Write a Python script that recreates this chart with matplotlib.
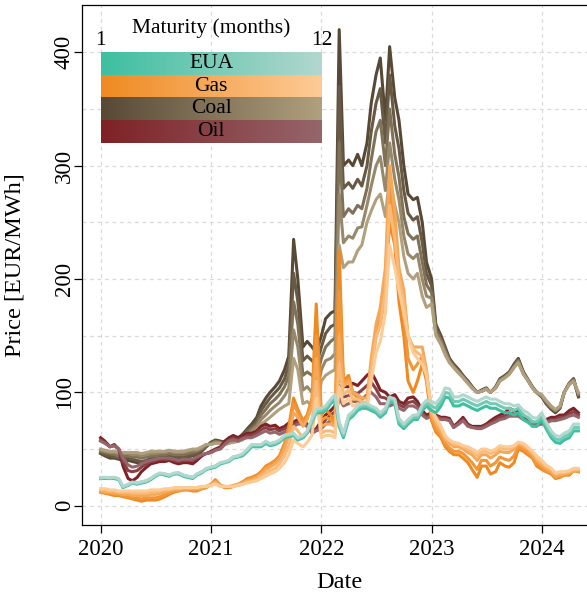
import numpy as np
import pandas as pd
import matplotlib
matplotlib.use("Agg")
import matplotlib.pyplot as plt
import matplotlib.dates as mdates
from matplotlib.colors import LinearSegmentedColormap
from matplotlib.ticker import MultipleLocator

plt.rcParams["font.family"] = ["Liberation Serif", "DejaVu Serif"]

# semi-monthly observation dates (1st and 15th)
dates = pd.date_range("2020-01-01", "2024-05-01", freq="SMS")

# ---- EUA (maturities 1, 6, 12) ----
eua_m1 = [24, 24, 24, 24, 23, 16, 18, 20, 19, 20, 21, 23, 26, 28, 27, 26, 28, 28, 26, 25, 24, 27, 29, 32,
          33, 34, 37, 38, 39, 42, 43, 44, 48, 52, 52, 52, 55, 53, 54, 56, 60, 61, 62, 58, 60, 64, 74, 82,
          82, 84, 90, 94, 70, 60, 76, 79, 84, 86, 86, 84, 82, 78, 82, 92, 90, 72, 68, 72, 76, 76, 84, 88,
          84, 82, 88, 96, 95, 88, 88, 90, 88, 86, 84, 86, 88, 86, 86, 84, 82, 82, 80, 82, 76, 74, 70, 70,
          76, 68, 60, 56, 55, 58, 60, 66, 66]
eua_m6 = [24, 25, 24, 25, 23, 17, 18, 20, 20, 21, 22, 24, 27, 28, 28, 27, 28, 29, 27, 26, 25, 28, 30, 32,
          34, 35, 38, 38, 40, 43, 44, 45, 49, 53, 53, 53, 56, 54, 55, 57, 61, 62, 63, 59, 61, 65, 75, 83,
          84, 86, 92, 96, 72, 62, 78, 81, 86, 88, 88, 86, 84, 80, 84, 94, 92, 74, 70, 74, 78, 78, 86, 90,
          88, 86, 92, 100, 99, 92, 92, 94, 92, 90, 88, 90, 92, 90, 90, 88, 86, 86, 84, 86, 80, 78, 74, 74,
          79, 71, 63, 59, 58, 61, 63, 69, 69]
eua_m12 = [25, 25, 25, 25, 24, 17, 19, 21, 20, 21, 22, 24, 27, 29, 28, 27, 29, 29, 27, 26, 25, 28, 30, 33,
           34, 35, 38, 39, 40, 43, 44, 46, 50, 54, 54, 54, 57, 55, 56, 58, 62, 63, 64, 60, 62, 66, 77, 85,
           86, 88, 94, 98, 74, 64, 80, 83, 88, 90, 90, 88, 86, 82, 86, 96, 94, 77, 72, 76, 80, 80, 89, 93,
           92, 90, 96, 104, 103, 96, 96, 98, 96, 94, 92, 94, 96, 94, 94, 92, 90, 90, 88, 89, 84, 82, 78, 77,
           82, 74, 66, 62, 61, 64, 66, 72, 72]

# ---- Gas (maturities 1, 3, 6, 9, 12) ----
gas_m1 = [12, 11, 10, 9, 9, 8, 7, 6, 5, 4, 5, 5, 5, 6, 8, 10, 12, 13, 14, 14, 13, 13, 15, 16,
          19, 23, 18, 16, 16, 17, 19, 21, 24, 25, 27, 30, 35, 37, 40, 44, 55, 70, 95, 85, 75, 80, 95, 178,
          80, 85, 80, 75, 225, 110, 115, 100, 95, 90, 88, 120, 150, 160, 190, 250, 230, 180, 150, 110, 100, 110, 125, 110,
          75, 65, 60, 52, 48, 45, 45, 42, 38, 32, 25, 35, 35, 28, 30, 38, 35, 34, 38, 50, 48, 45, 42, 35,
          32, 30, 28, 24, 25, 27, 27, 31, 30]
gas_m3 = [12, 12, 11, 10, 10, 9, 8, 7, 7, 6, 7, 7, 7, 8, 10, 11, 13, 13, 14, 14, 14, 14, 15, 16,
          19, 22, 18, 16, 16, 17, 19, 21, 23, 24, 26, 29, 34, 36, 39, 43, 53, 66, 90, 82, 73, 78, 92, 150,
          75, 78, 76, 72, 190, 108, 112, 100, 96, 92, 90, 125, 155, 168, 200, 280, 245, 195, 170, 130, 120, 125, 132, 115,
          78, 68, 62, 55, 51, 48, 48, 46, 42, 38, 32, 40, 40, 35, 38, 43, 41, 40, 44, 52, 50, 47, 43, 37,
          34, 31, 29, 25, 26, 27, 28, 31, 30]
gas_m6 = [13, 12, 12, 11, 11, 10, 10, 9, 9, 9, 9, 10, 10, 11, 12, 13, 14, 14, 15, 15, 15, 15, 16, 17,
          19, 21, 18, 17, 17, 18, 19, 20, 22, 23, 25, 28, 32, 34, 37, 41, 50, 62, 82, 78, 70, 76, 88, 130,
          70, 72, 72, 70, 150, 105, 110, 100, 98, 95, 95, 130, 160, 175, 210, 300, 260, 210, 190, 150, 140, 140, 140, 120,
          80, 72, 65, 58, 55, 52, 52, 50, 47, 45, 40, 45, 45, 42, 45, 48, 47, 47, 50, 55, 52, 50, 45, 40,
          36, 33, 30, 26, 27, 28, 29, 31, 31]
gas_m9 = [14, 14, 13, 13, 12, 12, 12, 11, 11, 11, 11, 12, 12, 13, 14, 14, 15, 15, 16, 16, 16, 16, 17, 17,
          18, 20, 17, 17, 17, 17, 18, 19, 21, 22, 23, 26, 29, 31, 33, 37, 44, 53, 70, 66, 60, 65, 74, 110,
          64, 66, 66, 64, 125, 98, 102, 94, 94, 92, 90, 120, 148, 160, 190, 265, 235, 200, 180, 150, 138, 135, 132, 118,
          83, 75, 68, 60, 57, 54, 54, 52, 50, 48, 44, 48, 48, 46, 48, 51, 50, 50, 52, 56, 54, 51, 47, 42,
          38, 35, 32, 28, 29, 29, 30, 32, 32]
gas_m12 = [15, 15, 14, 14, 13, 13, 13, 13, 13, 13, 13, 14, 14, 14, 15, 15, 16, 16, 16, 16, 16, 16, 17, 17,
           18, 19, 17, 17, 17, 17, 18, 19, 20, 21, 22, 24, 26, 28, 30, 33, 38, 45, 58, 55, 52, 56, 62, 95,
           60, 62, 62, 60, 105, 90, 95, 88, 90, 88, 85, 110, 135, 145, 170, 230, 210, 190, 170, 150, 135, 130, 125, 115,
           85, 78, 70, 62, 58, 56, 55, 53, 52, 50, 47, 50, 50, 48, 50, 53, 52, 52, 53, 56, 55, 52, 48, 44,
           40, 36, 33, 29, 30, 30, 31, 33, 33]

# ---- Coal (maturities 1, 3, 6, 9, 12) ----
coal_m1 = [46, 44, 42, 42, 41, 40, 40, 39, 38, 37, 38, 40, 40, 41, 42, 43, 42, 41, 42, 43, 44, 45, 48, 52,
           56, 58, 57, 56, 58, 58, 60, 63, 68, 72, 78, 88, 95, 100, 105, 110, 120, 132, 235, 200, 140, 145, 140, 135,
           150, 165, 170, 172, 420, 300, 305, 300, 310, 300, 320, 355, 380, 395, 340, 405, 360, 340, 300, 275, 270, 272, 250, 215,
           200, 160, 150, 140, 130, 125, 120, 115, 110, 105, 100, 102, 104, 100, 105, 112, 115, 118, 125, 130, 118, 112, 105, 100,
           96, 90, 85, 82, 86, 100, 108, 112, 96]
coal_m3 = [47, 45, 44, 43, 42, 42, 42, 41, 40, 39, 40, 42, 42, 43, 43, 44, 43, 43, 43, 44, 45, 46, 49, 52,
           56, 57, 56, 55, 57, 58, 59, 62, 67, 70, 75, 84, 90, 95, 100, 104, 112, 124, 205, 180, 128, 132, 128, 124,
           140, 152, 158, 160, 370, 280, 285, 280, 288, 282, 300, 330, 355, 368, 320, 380, 335, 315, 278, 258, 252, 255, 232, 205,
           194, 158, 148, 138, 129, 124, 119, 114, 110, 105, 100, 101, 103, 100, 104, 111, 114, 117, 124, 129, 117, 111, 104, 100,
           96, 91, 86, 83, 86, 100, 108, 112, 97]
coal_m6 = [48, 47, 46, 45, 44, 44, 44, 43, 43, 42, 43, 44, 44, 45, 45, 46, 45, 45, 45, 46, 47, 48, 50, 53,
           55, 57, 56, 55, 57, 57, 58, 60, 65, 68, 72, 80, 85, 90, 94, 98, 105, 115, 180, 160, 115, 118, 115, 112,
           130, 140, 145, 148, 320, 255, 262, 258, 265, 262, 280, 305, 330, 340, 300, 350, 310, 290, 255, 240, 235, 238, 215, 195,
           188, 155, 146, 137, 128, 123, 118, 114, 109, 104, 100, 101, 103, 100, 104, 111, 114, 117, 123, 128, 117, 111, 104, 100,
           97, 92, 87, 84, 87, 100, 108, 111, 98]
coal_m9 = [49, 48, 47, 47, 46, 46, 46, 45, 45, 44, 45, 46, 46, 47, 47, 48, 47, 47, 47, 48, 49, 49, 51, 54,
           54, 56, 55, 55, 56, 56, 57, 59, 63, 66, 70, 76, 80, 84, 88, 91, 97, 104, 155, 140, 102, 105, 100, 98,
           120, 128, 130, 134, 275, 232, 238, 236, 245, 246, 265, 282, 300, 308, 278, 320, 288, 270, 238, 222, 218, 222, 200, 185,
           183, 152, 144, 135, 127, 122, 117, 113, 108, 104, 100, 101, 103, 100, 104, 110, 113, 116, 122, 127, 116, 111, 104, 100,
           97, 92, 87, 84, 87, 100, 107, 110, 99]
coal_m12 = [50, 49, 48, 48, 47, 47, 47, 47, 47, 46, 47, 48, 48, 48, 48, 49, 48, 48, 48, 49, 50, 50, 52, 54,
            54, 55, 55, 54, 55, 56, 57, 58, 62, 64, 67, 72, 75, 78, 82, 85, 88, 90, 130, 120, 90, 92, 88, 85,
            110, 115, 118, 120, 230, 210, 215, 215, 225, 230, 250, 260, 270, 275, 255, 290, 265, 250, 220, 205, 200, 205, 185, 175,
            178, 150, 142, 133, 126, 122, 117, 113, 108, 104, 100, 101, 103, 100, 104, 110, 113, 116, 122, 126, 116, 111, 104, 100,
            98, 93, 88, 85, 88, 100, 107, 110, 100]

# ---- Oil (maturities 1, 6, 12) ----
oil_m1 = [60, 57, 52, 54, 50, 35, 24, 22, 25, 30, 34, 37, 38, 39, 39, 40, 38, 37, 38, 38, 37, 40, 44, 46,
          48, 50, 52, 57, 60, 62, 60, 62, 64, 64, 66, 70, 72, 70, 71, 68, 70, 73, 74, 76, 76, 72, 66, 68,
          75, 80, 84, 88, 118, 105, 105, 108, 106, 110, 115, 118, 110, 102, 100, 96, 98, 92, 90, 95, 96, 92, 84, 80,
          82, 80, 78, 78, 77, 70, 74, 78, 72, 70, 70, 70, 72, 75, 78, 80, 82, 86, 84, 84, 80, 76, 74, 72,
          74, 76, 78, 78, 80, 80, 84, 86, 82]
oil_m6 = [58, 56, 52, 53, 50, 39, 31, 30, 31, 34, 37, 39, 40, 41, 41, 41, 40, 39, 40, 40, 40, 42, 45, 46,
          47, 49, 51, 55, 58, 60, 58, 60, 62, 62, 64, 67, 69, 67, 68, 66, 68, 70, 72, 74, 74, 71, 65, 67,
          71, 76, 80, 83, 106, 96, 97, 100, 99, 102, 106, 109, 103, 96, 95, 92, 94, 89, 87, 91, 92, 89, 82, 78,
          80, 79, 77, 77, 76, 69, 73, 76, 71, 69, 69, 69, 71, 73, 76, 78, 79, 82, 81, 81, 78, 75, 73, 71,
          73, 74, 76, 76, 78, 78, 81, 83, 80]
oil_m12 = [57, 55, 52, 53, 50, 42, 36, 34, 35, 37, 39, 40, 41, 42, 42, 42, 41, 40, 41, 41, 41, 43, 45, 46,
           47, 49, 50, 54, 57, 58, 57, 59, 60, 60, 62, 64, 66, 64, 65, 63, 65, 67, 70, 72, 72, 70, 64, 66,
           68, 72, 75, 78, 95, 88, 90, 92, 92, 94, 98, 100, 96, 90, 90, 88, 90, 86, 84, 88, 88, 86, 80, 77,
           79, 78, 76, 76, 75, 69, 72, 75, 70, 69, 68, 68, 70, 72, 74, 76, 77, 79, 79, 79, 76, 74, 72, 71,
           72, 73, 75, 75, 76, 77, 79, 80, 78]

names = ["EUA", "Gas", "Coal", "Oil"]
cmaps = {
    "EUA": LinearSegmentedColormap.from_list("eua", ["#3dbfa0", "#b2d7ce"]),
    "Gas": LinearSegmentedColormap.from_list("gas", ["#ef8a22", "#fdcb96"]),
    "Coal": LinearSegmentedColormap.from_list("coal", ["#574936", "#b0a07e"]),
    "Oil": LinearSegmentedColormap.from_list("oil", ["#7e2226", "#95666b"]),
}
series = {
    "EUA": {1: eua_m1, 6: eua_m6, 12: eua_m12},
    "Gas": {1: gas_m1, 3: gas_m3, 6: gas_m6, 9: gas_m9, 12: gas_m12},
    "Coal": {1: coal_m1, 3: coal_m3, 6: coal_m6, 9: coal_m9, 12: coal_m12},
    "Oil": {1: oil_m1, 6: oil_m6, 12: oil_m12},
}
for k in series:
    for m, s in series[k].items():
        assert len(s) == len(dates), (k, m, len(s))

fig = plt.figure(figsize=(5.87, 5.92), dpi=100)
ax = fig.add_axes([81.6 / 587, 67 / 592, 515.2 / 587, 520.3 / 592])

for name in ["Coal", "Oil", "Gas", "EUA"]:
    for m, vals in series[name].items():
        ax.plot(dates, vals, color=cmaps[name]((m - 1) / 11), lw=2.2,
                solid_joinstyle="round", zorder=3)

# maturity colour key drawn inside the plot
x0 = mdates.date2num(pd.Timestamp("2020-01-01"))
x1 = mdates.date2num(pd.Timestamp("2022-01-01"))
xm = mdates.date2num(pd.Timestamp("2021-01-01"))
grad = np.linspace(0, 1, 256).reshape(1, -1)
for k, name in enumerate(names):
    top = 400 - 20 * k
    ax.imshow(grad, cmap=cmaps[name], extent=[x0, x1, top - 20, top],
              aspect="auto", zorder=5, interpolation="bilinear")
    ax.text(xm, top - 10, name, ha="center", va="center", fontsize=15.5, zorder=6)
ax.text(xm, 421, "Maturity (months)", ha="center", va="center", fontsize=15.5)
ax.text(x0, 410, "1", ha="center", va="center", fontsize=15.5)
ax.text(x1, 410, "12", ha="center", va="center", fontsize=15.5)

ax.set_xlim(pd.Timestamp("2019-10-30"), pd.Timestamp("2024-07-01"))
ax.set_ylim(-17, 442)
ax.xaxis.set_major_locator(mdates.YearLocator())
ax.xaxis.set_major_formatter(mdates.DateFormatter("%Y"))
ax.yaxis.set_major_locator(MultipleLocator(100))
ax.yaxis.set_minor_locator(MultipleLocator(50))

ax.grid(True, which="both", color="#d9d9d9", linestyle=(0, (3, 3)), lw=0.9, zorder=0)
ax.set_axisbelow(True)
ax.tick_params(which="major", length=6, width=0.9, direction="out", labelsize=16.5)
ax.tick_params(axis="y", pad=-1)
ax.tick_params(axis="x", pad=4)
ax.tick_params(which="minor", length=0)
for lab in ax.get_yticklabels():
    lab.set_rotation(90)
    lab.set_va("center")
for sp in ax.spines.values():
    sp.set_linewidth(0.9)

ax.set_xlabel("Date", fontsize=17.5)
ax.set_ylabel("Price [EUR/MWh]", fontsize=17.5)
ax.xaxis.label.set_va("center")
ax.yaxis.label.set_va("center")
ax.xaxis.set_label_coords(0.5, -0.111)
ax.yaxis.set_label_coords(-0.129, 0.5)

fig.savefig("out.png", dpi=100)
